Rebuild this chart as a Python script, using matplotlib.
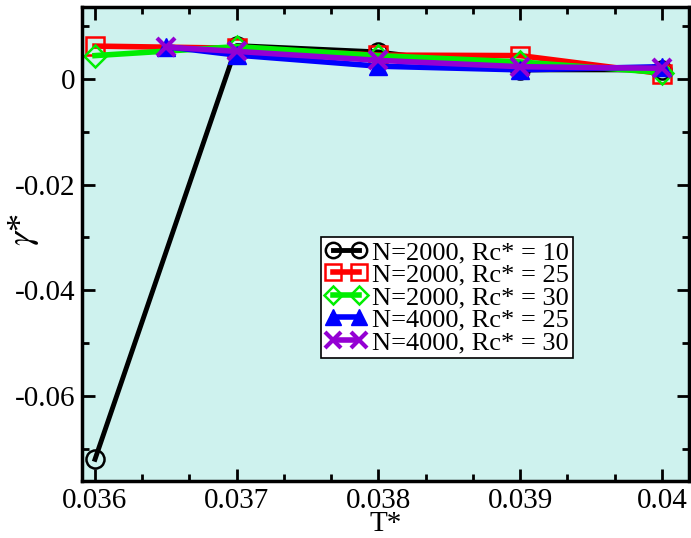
import numpy as np
import matplotlib.pyplot as plt
from matplotlib.ticker import MultipleLocator

plt.rcParams['font.family'] = ['Liberation Serif', 'DejaVu Serif']
plt.rcParams['mathtext.fontset'] = 'stix'

# data
t_a = [0.036, 0.037, 0.038, 0.039, 0.040]
t_b = [0.0365, 0.037, 0.038, 0.039, 0.040]

g_2000_10 = [-0.072, 0.0063, 0.0051, 0.0017, 0.0017]
g_2000_25 = [0.0062, 0.0058, 0.0045, 0.0044, 0.0010]
g_2000_30 = [0.0044, 0.0061, 0.0044, 0.0032, 0.0012]
g_4000_25 = [0.0061, 0.0045, 0.0024, 0.0017, 0.0023]
g_4000_30 = [0.0060, 0.0052, 0.0035, 0.0023, 0.0020]

labels = ["N=2000, Rc* = 10", "N=2000, Rc* = 25", "N=2000, Rc* = 30",
          "N=4000, Rc* = 25", "N=4000, Rc* = 30"]

fig = plt.figure(figsize=(6.91, 5.38), dpi=100)
ax = fig.add_axes([0.119, 0.106, 0.878, 0.881])
ax.set_facecolor('#cef2ee')

ax.plot(t_a, g_2000_10, color='black', lw=3.5, marker='o', ms=13, mfc='none',
        mec='black', mew=1.8, label=labels[0])
ax.plot(t_a, g_2000_25, color='red', lw=4, marker='s', ms=13, mfc='none',
        mec='red', mew=1.8, label=labels[1])
ax.plot(t_a, g_2000_30, color='#00ee00', lw=4, marker='D', ms=11, mfc='none',
        mec='#00ee00', mew=1.8, label=labels[2])
ax.plot(t_b, g_4000_25, color='blue', lw=4, marker='^', ms=13, mfc='blue',
        mec='blue', label=labels[3])
ax.plot(t_b, g_4000_30, color='#9400d3', lw=4, marker='x', ms=13,
        mec='#9400d3', mew=3, label=labels[4])

ax.set_xlim(0.03591, 0.04019)
ax.set_ylim(-0.0761, 0.0136)
ax.xaxis.set_minor_locator(MultipleLocator(0.001 / 3))
ax.yaxis.set_minor_locator(MultipleLocator(0.01))
ax.set_xticks([0.036, 0.037, 0.038, 0.039, 0.040])
ax.set_xticklabels(['0.036', '0.037', '0.038', '0.039', '0.04'])
ax.set_yticks([0, -0.02, -0.04, -0.06])
ax.set_yticklabels(['0', '-0.02', '-0.04', '-0.06'])

ax.tick_params(which='both', direction='in', top=True, right=True, width=2,
               labelsize=21)
ax.tick_params(which='major', length=9, pad=5)
ax.tick_params(which='minor', length=5)
for s in ax.spines.values():
    s.set_linewidth(2.5)

ax.set_xlabel('T*', fontsize=21)
ax.xaxis.set_label_coords(0.5, -0.064)
ax.set_ylabel(r'$\gamma$*', fontsize=26)
ax.yaxis.set_label_coords(-0.068, 0.53)

leg = ax.legend(loc='upper left', bbox_to_anchor=(0.393, 0.515), numpoints=2,
                fontsize=19, frameon=True, fancybox=False, edgecolor='black',
                handlelength=1.6, handletextpad=0.2, borderpad=0.15,
                labelspacing=-0.04, borderaxespad=0, markerscale=0.85)
leg.get_frame().set_linewidth(1.2)
leg.get_frame().set_facecolor('white')
leg.get_frame().set_alpha(1)

fig.savefig('out.png', dpi=100)
